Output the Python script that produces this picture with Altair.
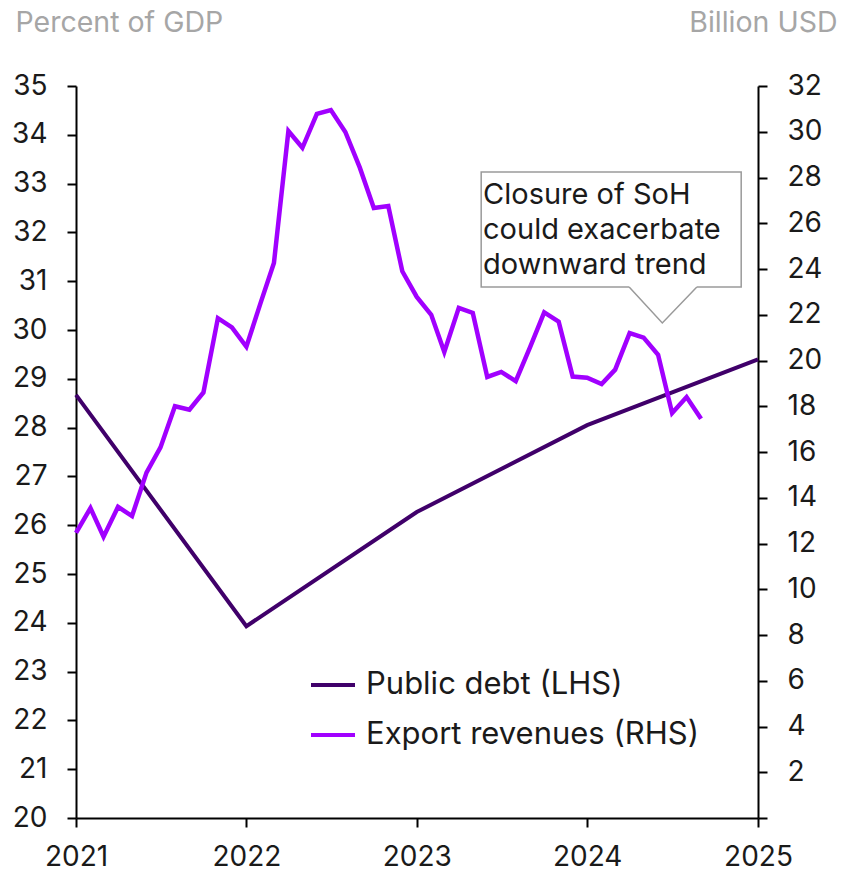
import altair as alt
import pandas as pd

# ---- data ----
export_start = "2021-01-01"
export_values = [
    12.46, 13.55, 12.3, 13.6, 13.2, 15.1, 16.2, 18.0, 17.85, 18.6, 21.85, 21.45,
    20.6, 22.55, 24.26, 30.03, 29.3, 30.78, 30.95, 29.99, 28.43, 26.67, 26.75, 23.9,
    22.78, 22.0, 20.37, 22.3, 22.08, 19.28, 19.5, 19.1, 20.6, 22.1, 21.7, 19.3,
    19.25, 18.97, 19.6, 21.2, 21.0, 20.25, 17.7, 18.4, 17.45,
]
debt_dates = ["2021-01-01", "2022-01-01", "2023-01-01", "2024-01-01", "2025-01-01"]
debt_values = [28.67, 23.93, 26.27, 28.05, 29.4]

series_names = ["Public debt (LHS)", "Export revenues (RHS)"]
series_colors = ["#40006a", "#a100ff"]
year_ticks = [2021, 2022, 2023, 2024, 2025]

# annotation (data coords: date, right-axis value)
note_lines = ["Closure of SoH", "could exacerbate", "downward trend"]
box_x = ["2023-05-19", "2024-11-26"]
box_y = [23.21, 28.24]
pointer_x = ["2024-03-31", "2024-06-10", "2024-08-23"]
pointer_y = [23.21, 21.64, 23.21]
note_pos = ("2023-05-23", 26.85)

FONT = "Inter"
TXT = "#1a1a1a"

export_df = pd.DataFrame({
    "date": pd.date_range(export_start, periods=len(export_values), freq="MS").strftime("%Y-%m-%d"),
    "value": export_values,
    "series": series_names[1],
})
debt_df = pd.DataFrame({"date": debt_dates, "value": debt_values, "series": series_names[0]})

xdomain = [alt.DateTime(year=year_ticks[0], month=1, date=1, utc=True),
           alt.DateTime(year=year_ticks[-1], month=1, date=1, utc=True)]
xscale = alt.Scale(type="utc", domain=xdomain)
xaxis = alt.Axis(values=[alt.DateTime(year=y, month=1, date=1, utc=True) for y in year_ticks],
                 format="%Y", formatType="utc", title=None, grid=False,
                 labelFontSize=28, labelColor=TXT, labelPadding=16, labelFont=FONT,
                 tickSize=9, tickWidth=2, tickColor="black", domainColor="black", domainWidth=2,
                 labelFlush=False)

color = alt.Color("series:N", scale=alt.Scale(domain=series_names, range=series_colors),
                  legend=alt.Legend(title=None, orient="none", legendX=233, legendY=575,
                                    symbolType="stroke", symbolStrokeWidth=4, symbolSize=1936,
                                    labelFontSize=31, labelColor=TXT, labelFont=FONT, labelLimit=0,
                                    rowPadding=11, labelOffset=9, padding=0))

left_axis = alt.Axis(values=list(range(20, 36)), title="Percent of GDP", titleAngle=0,
                     titleAlign="left", titleBaseline="alphabetic", titleX=-61, titleY=-55,
                     titleColor="#a6a6a6", titleFontSize=28.5, titleFontWeight="normal", titleFont=FONT,
                     labelFontSize=28, labelColor=TXT, labelFont=FONT, labelPadding=20,
                     tickSize=9, tickWidth=2, tickColor="black", domainColor="black", domainWidth=2,
                     grid=False)
right_axis = alt.Axis(values=list(range(0, 33, 2)), title="Billion USD", titleAngle=0,
                      labelExpr="datum.value == 0 ? '' : datum.label",
                      titleAlign="right", titleBaseline="alphabetic", titleX=79, titleY=-55,
                      titleColor="#a6a6a6", titleFontSize=28.5, titleFontWeight="normal", titleFont=FONT,
                      labelFontSize=28, labelColor=TXT, labelFont=FONT, labelPadding=20,
                      tickSize=9, tickWidth=2, tickColor="black", domainColor="black", domainWidth=2,
                      grid=False)

lscale = alt.Scale(domain=[20, 35], nice=False, zero=False)
rscale = alt.Scale(domain=[0, 32], nice=False)

debt_line = alt.Chart(debt_df).mark_line(strokeWidth=4).encode(
    x=alt.X("date:T", scale=xscale, axis=xaxis),
    y=alt.Y("value:Q", scale=lscale, axis=left_axis),
    color=color,
)

export_line = alt.Chart(export_df).mark_line(strokeWidth=4.5).encode(
    x=alt.X("date:T", scale=xscale, axis=xaxis),
    y=alt.Y("value:Q", scale=rscale, axis=right_axis),
    color=color,
)

box_df = pd.DataFrame({"date": [box_x[0]], "date2": [box_x[1]], "value": [box_y[0]], "value2": [box_y[1]]})
box = alt.Chart(box_df).mark_rect(fill="white", stroke="#9a9a9a", strokeWidth=1.5).encode(
    x=alt.X("date:T", scale=xscale, axis=xaxis), x2="date2:T",
    y=alt.Y("value:Q", scale=rscale, axis=right_axis), y2="value2:Q",
)
gap_df = pd.DataFrame({"date": [pointer_x[0]], "date2": [pointer_x[2]], "value": [pointer_y[0]]})
gap = alt.Chart(gap_df).mark_rule(color="white", strokeWidth=3).encode(
    x=alt.X("date:T", scale=xscale, axis=xaxis), x2="date2:T",
    y=alt.Y("value:Q", scale=rscale, axis=right_axis),
)
ptr_df = pd.DataFrame({"date": pointer_x, "value": pointer_y, "o": [0, 1, 2]})
pointer = alt.Chart(ptr_df).mark_line(color="#9a9a9a", strokeWidth=1.5).encode(
    x=alt.X("date:T", scale=xscale, axis=xaxis),
    y=alt.Y("value:Q", scale=rscale, axis=right_axis),
    order="o:Q",
)
text_df = pd.DataFrame({"date": [note_pos[0]], "value": [note_pos[1]], "t": ["\n".join(note_lines)]})
note = alt.Chart(text_df).mark_text(align="left", baseline="alphabetic", fontSize=29,
                                    lineHeight=35, font=FONT, color=TXT, lineBreak="\n").encode(
    x=alt.X("date:T", scale=xscale, axis=xaxis),
    y=alt.Y("value:Q", scale=rscale, axis=right_axis),
    text="t:N",
)

right = alt.layer(export_line, box, gap, pointer, note)
chart = alt.layer(debt_line, right).resolve_scale(y="independent").properties(
    width=682, height=732,
    autosize=alt.AutoSizeParams(type="none"),
    padding={"left": 68, "top": 78, "right": 80, "bottom": 53},
).configure_view(stroke=None)

chart.save("out.html", embed_options={"renderer": "svg", "actions": False})
